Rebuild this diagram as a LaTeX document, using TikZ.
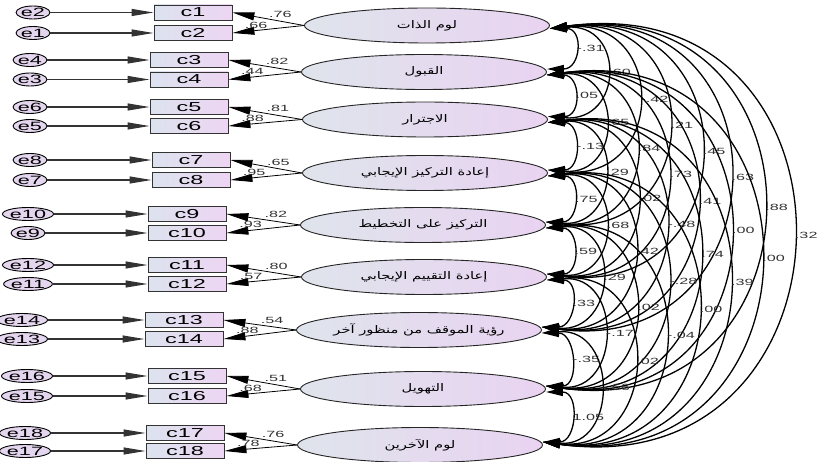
\documentclass[tikz,border=0pt]{standalone}
\usepackage{fontspec}
\setmainfont{Liberation Sans}[FakeStretch=1.8]
\newfontfamily\arabicfont[Script=Arabic,FakeStretch=1.4]{DejaVu Sans}
\TeXXeTstate=1
\usetikzlibrary{arrows.meta,shapes.geometric}
\definecolor{itemL}{HTML}{DCE3EE}
\definecolor{itemR}{HTML}{EDD5F3}
\definecolor{facL}{HTML}{DFE4EC}
\definecolor{facR}{HTML}{E9D3F1}
\definecolor{errC}{HTML}{E4D6EE}

\begin{document}
\begin{tikzpicture}[
    x=1pt, y=-1pt,
    item/.style={rectangle, draw=black!80, line width=0.9pt, left color=itemL, right color=itemR, minimum width=78pt, minimum height=15pt, inner sep=0pt, font=\fontsize{13}{13}\selectfont},
    factor/.style={ellipse, draw=black!85, line width=0.9pt, left color=facL, right color=facR, minimum width=245pt, minimum height=35pt, inner sep=0pt, font=\arabicfont\fontsize{10.5}{12}\selectfont},
    err/.style={ellipse, draw=black, line width=0.9pt, fill=errC, minimum width=30pt, minimum height=13pt, inner sep=0pt, font=\fontsize{12}{12}\selectfont},
    arrow/.style={-{Triangle[length=22pt,width=7pt]}, line width=1.1pt, black!80},
    load/.style={-{Triangle[length=22pt,width=8pt]}, line width=0.8pt},
    cov/.style={{Triangle[length=17pt,width=8pt]}-{Triangle[length=17pt,width=8pt]}, line width=1.3pt},
    lbl/.style={font=\fontsize{9}{9}\selectfont, inner sep=1pt, text=black!80},
    cl/.style={lbl, anchor=west, xshift=1pt},
    s1/.style={out=0, in=0, distance=34pt},
    s2/.style={out=4.5, in=-4.5, distance=76pt},
    s3/.style={out=6, in=-6, distance=119pt},
    s4/.style={out=6.8, in=-6.8, distance=161pt},
    s5/.style={out=7.2, in=-7.2, distance=204pt},
    s6/.style={out=7.5, in=-7.5, distance=246pt},
    s7/.style={out=7.7, in=-7.7, distance=289pt},
    s8/.style={out=7.9, in=-7.9, distance=331pt}
]
    \useasboundingbox (0,0) rectangle (825,462);

    % Factors
    \node[factor] (f1) at (427,25.5) {\beginR لوم الذات\endR};
    \node[factor] (f2) at (424,72) {\beginR القبول\endR};
    \node[factor] (f3) at (425,119.5) {\beginR الاجترار\endR};
    \node[factor] (f4) at (425,173) {\beginR إعادة التركيز الإيجابي\endR};
    \node[factor] (f5) at (423,225) {\beginR التركيز على التخطيط\endR};
    \node[factor] (f6) at (424,277) {\beginR إعادة التقييم الإيجابي\endR};
    \node[factor] (f7) at (419,330) {\beginR رؤية الموقف من منظور آخر\endR};
    \node[factor] (f8) at (423,389) {\beginR التهويل\endR};
    \node[factor] (f9) at (420,445) {\beginR لوم الآخرين\endR};

    % Items
    \node[item] (c1) at (193,12.5) {c1};
    \node[item] (c2) at (193,33) {c2};
    \node[item] (c3) at (189,60) {c3};
    \node[item] (c4) at (189,79.5) {c4};
    \node[item] (c5) at (189,107) {c5};
    \node[item] (c6) at (189,126) {c6};
    \node[item] (c7) at (191,160) {c7};
    \node[item] (c8) at (191,180) {c8};
    \node[item] (c9) at (187,214) {c9};
    \node[item] (c10) at (187,233) {c10};
    \node[item] (c11) at (187,265) {c11};
    \node[item] (c12) at (187,284) {c12};
    \node[item] (c13) at (184,320) {c13};
    \node[item] (c14) at (184,339) {c14};
    \node[item] (c15) at (187,376) {c15};
    \node[item] (c16) at (187,396) {c16};
    \node[item] (c17) at (185,433) {c17};
    \node[item] (c18) at (185,451) {c18};

    % Errors
    \node[err] (e2) at (33,12.5) {e2};
    \node[err] (e1) at (33,33) {e1};
    \node[err] (e4) at (30,60) {e4};
    \node[err] (e3) at (30,79.5) {e3};
    \node[err] (e6) at (30,107) {e6};
    \node[err] (e5) at (30,126) {e5};
    \node[err] (e8) at (30,160) {e8};
    \node[err] (e7) at (30,180) {e7};
    \node[err] (e10) at (28,214) {e10};
    \node[err] (e9) at (28,233) {e9};
    \node[err] (e12) at (28,265) {e12};
    \node[err] (e11) at (28,284) {e11};
    \node[err] (e14) at (22,320) {e14};
    \node[err] (e13) at (22,339) {e13};
    \node[err] (e16) at (27,376) {e16};
    \node[err] (e15) at (27,396) {e15};
    \node[err] (e18) at (25,433) {e18};
    \node[err] (e17) at (25,451) {e17};

    % Error arrows
    \draw[arrow] (e2) -- (c1);
    \draw[arrow] (e1) -- (c2);
    \draw[arrow] (e4) -- (c3);
    \draw[arrow] (e3) -- (c4);
    \draw[arrow] (e6) -- (c5);
    \draw[arrow] (e5) -- (c6);
    \draw[arrow] (e8) -- (c7);
    \draw[arrow] (e7) -- (c8);
    \draw[arrow] (e10) -- (c9);
    \draw[arrow] (e9) -- (c10);
    \draw[arrow] (e12) -- (c11);
    \draw[arrow] (e11) -- (c12);
    \draw[arrow] (e14) -- (c13);
    \draw[arrow] (e13) -- (c14);
    \draw[arrow] (e16) -- (c15);
    \draw[arrow] (e15) -- (c16);
    \draw[arrow] (e18) -- (c17);
    \draw[arrow] (e17) -- (c18);

    % Loadings
    \draw[load] (f1.west) -- node[lbl, pos=0.33, above=2pt] {.76} (c1.east);
    \draw[load] (f1.west) -- node[lbl, pos=0.67, above=1pt] {.66} (c2.east);
    \draw[load] (f2.west) -- node[lbl, pos=0.33, above=2pt] {.82} (c3.east);
    \draw[load] (f2.west) -- node[lbl, pos=0.67, above=1pt] {.44} (c4.east);
    \draw[load] (f3.west) -- node[lbl, pos=0.33, above=2pt] {.81} (c5.east);
    \draw[load] (f3.west) -- node[lbl, pos=0.67, above=1pt] {.88} (c6.east);
    \draw[load] (f4.west) -- node[lbl, pos=0.33, above=2pt] {.65} (c7.east);
    \draw[load] (f4.west) -- node[lbl, pos=0.67, above=1pt] {.95} (c8.east);
    \draw[load] (f5.west) -- node[lbl, pos=0.33, above=2pt] {.82} (c9.east);
    \draw[load] (f5.west) -- node[lbl, pos=0.67, above=1pt] {.93} (c10.east);
    \draw[load] (f6.west) -- node[lbl, pos=0.33, above=2pt] {.80} (c11.east);
    \draw[load] (f6.west) -- node[lbl, pos=0.67, above=1pt] {.57} (c12.east);
    \draw[load] (f7.west) -- node[lbl, pos=0.33, above=2pt] {.54} (c13.east);
    \draw[load] (f7.west) -- node[lbl, pos=0.67, above=1pt] {.88} (c14.east);
    \draw[load] (f8.west) -- node[lbl, pos=0.33, above=2pt] {.51} (c15.east);
    \draw[load] (f8.west) -- node[lbl, pos=0.67, above=1pt] {.68} (c16.east);
    \draw[load] (f9.west) -- node[lbl, pos=0.33, above=2pt] {.76} (c17.east);
    \draw[load] (f9.west) -- node[lbl, pos=0.67, above=1pt] {.78} (c18.east);

    % Covariances
    \draw[cov] ([yshift=-3pt]f1.east) to[s1] node[cl] {-.31} ([yshift=3pt]f2.east);
    \draw[cov] ([yshift=-3pt]f1.east) to[s2] node[cl] {.60} ([yshift=3pt]f3.east);
    \draw[cov] ([yshift=-3pt]f1.east) to[s3] node[cl] {-.42} ([yshift=3pt]f4.east);
    \draw[cov] ([yshift=-3pt]f1.east) to[s4] node[cl] {.21} ([yshift=3pt]f5.east);
    \draw[cov] ([yshift=-3pt]f1.east) to[s5] node[cl] {.45} ([yshift=3pt]f6.east);
    \draw[cov] ([yshift=-3pt]f1.east) to[s6] node[cl] {.63} ([yshift=3pt]f7.east);
    \draw[cov] ([yshift=-3pt]f1.east) to[s7] node[cl] {.88} ([yshift=3pt]f8.east);
    \draw[cov] ([yshift=-3pt]f1.east) to[s8] node[cl] {.32} ([yshift=3pt]f9.east);
    \draw[cov] ([yshift=-3pt]f2.east) to[s1] node[cl] {.05} ([yshift=3pt]f3.east);
    \draw[cov] ([yshift=-3pt]f2.east) to[s2] node[cl] {.65} ([yshift=3pt]f4.east);
    \draw[cov] ([yshift=-3pt]f2.east) to[s3] node[cl] {.84} ([yshift=3pt]f5.east);
    \draw[cov] ([yshift=-3pt]f2.east) to[s4] node[cl] {.73} ([yshift=3pt]f6.east);
    \draw[cov] ([yshift=-3pt]f2.east) to[s5] node[cl] {.41} ([yshift=3pt]f7.east);
    \draw[cov] ([yshift=-3pt]f2.east) to[s6] node[cl] {.00} ([yshift=3pt]f8.east);
    \draw[cov] ([yshift=-3pt]f2.east) to[s7] node[cl] {.00} ([yshift=3pt]f9.east);
    \draw[cov] ([yshift=-3pt]f3.east) to[s1] node[cl] {-.13} ([yshift=3pt]f4.east);
    \draw[cov] ([yshift=-3pt]f3.east) to[s2] node[cl] {.29} ([yshift=3pt]f5.east);
    \draw[cov] ([yshift=-3pt]f3.east) to[s3] node[cl] {.02} ([yshift=3pt]f6.east);
    \draw[cov] ([yshift=-3pt]f3.east) to[s4] node[cl] {-.48} ([yshift=3pt]f7.east);
    \draw[cov] ([yshift=-3pt]f3.east) to[s5] node[cl] {.74} ([yshift=3pt]f8.east);
    \draw[cov] ([yshift=-3pt]f3.east) to[s6] node[cl] {.39} ([yshift=3pt]f9.east);
    \draw[cov] ([yshift=-3pt]f4.east) to[s1] node[cl] {.75} ([yshift=3pt]f5.east);
    \draw[cov] ([yshift=-3pt]f4.east) to[s2] node[cl] {.68} ([yshift=3pt]f6.east);
    \draw[cov] ([yshift=-3pt]f4.east) to[s3] node[cl] {.42} ([yshift=3pt]f7.east);
    \draw[cov] ([yshift=-3pt]f4.east) to[s4] node[cl] {-.28} ([yshift=3pt]f8.east);
    \draw[cov] ([yshift=-3pt]f4.east) to[s5] node[cl] {.00} ([yshift=3pt]f9.east);
    \draw[cov] ([yshift=-3pt]f5.east) to[s1] node[cl] {.59} ([yshift=3pt]f6.east);
    \draw[cov] ([yshift=-3pt]f5.east) to[s2] node[cl] {.29} ([yshift=3pt]f7.east);
    \draw[cov] ([yshift=-3pt]f5.east) to[s3] node[cl] {.02} ([yshift=3pt]f8.east);
    \draw[cov] ([yshift=-3pt]f5.east) to[s4] node[cl] {-.04} ([yshift=3pt]f9.east);
    \draw[cov] ([yshift=-3pt]f6.east) to[s1] node[cl] {.33} ([yshift=3pt]f7.east);
    \draw[cov] ([yshift=-3pt]f6.east) to[s2] node[cl] {-.17} ([yshift=3pt]f8.east);
    \draw[cov] ([yshift=-3pt]f6.east) to[s3] node[cl] {.02} ([yshift=3pt]f9.east);
    \draw[cov] ([yshift=-3pt]f7.east) to[s1] node[cl] {-.35} ([yshift=3pt]f8.east);
    \draw[cov] ([yshift=-3pt]f7.east) to[s2] node[cl] {-.66} ([yshift=3pt]f9.east);
    \draw[cov] ([yshift=-3pt]f8.east) to[s1] node[cl] {1.05} ([yshift=3pt]f9.east);
\end{tikzpicture}
\end{document}
